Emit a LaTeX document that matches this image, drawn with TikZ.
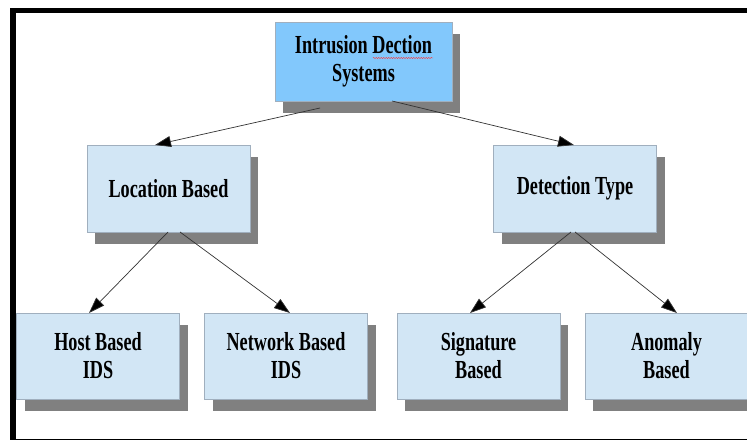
\documentclass[tikz,border=0pt]{standalone}
\usepackage{fontspec}
\newfontfamily\boxfont[FakeStretch=0.7]{Liberation Serif}
\usetikzlibrary{arrows.meta,shadows,decorations.pathmorphing}

\definecolor{rootfill}{RGB}{130,200,252}
\definecolor{leaffill}{RGB}{210,230,245}
\definecolor{boxedge}{RGB}{160,175,190}
\definecolor{shadowgray}{RGB}{128,128,128}
\definecolor{linkgray}{RGB}{50,50,50}

\tikzset{
  idsbox/.style={
    draw=boxedge, line width=0.8pt, fill=leaffill,
    inner sep=0pt, outer sep=0pt, align=center,
    minimum width=163pt, minimum height=87pt,
    font=\boxfont\bfseries\fontsize{26}{28}\selectfont,
    drop shadow={shadow xshift=8pt, shadow yshift=-12pt,
                 fill=shadowgray, opacity=1, draw=none}
  },
  rootbox/.style={idsbox, fill=rootfill,
    minimum width=177pt, minimum height=79pt},
  link/.style={draw=linkgray, line width=0.7pt,
    -{Triangle[length=16pt,width=11pt,fill=black]}}
}

\begin{document}
\begin{tikzpicture}[x=1pt,y=-1pt]
  \useasboundingbox (0,0) rectangle (747,441);

  % page frame
  \fill[black] (10,8) rectangle (747,13.5);
  \fill[black] (10,8) rectangle (16,440);
  \fill[black] (10,438.6) rectangle (747,440.2);

  % boxes
  \node[rootbox] (ids) at (363.5,61.5) {Intrusion Dection\\Systems};
  \node[idsbox]  (loc) at (168.5,188.5) {Location Based};
  \node[idsbox]  (det) at (575,188.5) {Detection Type};
  \node[idsbox, minimum height=86pt]  (host) at (98,356) {Host Based\\IDS};
  \node[idsbox, minimum height=86pt]  (net)  at (286,356) {Network Based\\IDS};
  \node[idsbox, minimum height=86pt]  (sig)  at (478.5,356) {Signature\\Based};
  \node[idsbox, minimum height=86pt]  (ano)  at (666.5,356) {Anomaly\\Based};

  % spell-check underline under "Dection"
  \draw[red!80, line width=0.45pt,
        decorate, decoration={snake, amplitude=0.6pt, segment length=2.5pt}]
    (373,58) -- (433,58);

  % connectors
  \draw[link] ([xshift=-43.5pt,yshift=-7pt]ids.south) -- ([xshift=-13.5pt]loc.north);
  \draw[link] ([xshift=28.5pt]ids.south) -- ([xshift=-1pt]det.north);
  \draw[link] ([xshift=-0.5pt]loc.south) -- ([xshift=-9pt]host.north);
  \draw[link] ([xshift=11.5pt]loc.south) -- ([xshift=4pt]net.north);
  \draw[link] ([xshift=-4pt]det.south) -- ([xshift=-8.5pt]sig.north);
  \draw[link] ([xshift=0pt]det.south) -- ([xshift=10.5pt]ano.north);
\end{tikzpicture}
\end{document}
